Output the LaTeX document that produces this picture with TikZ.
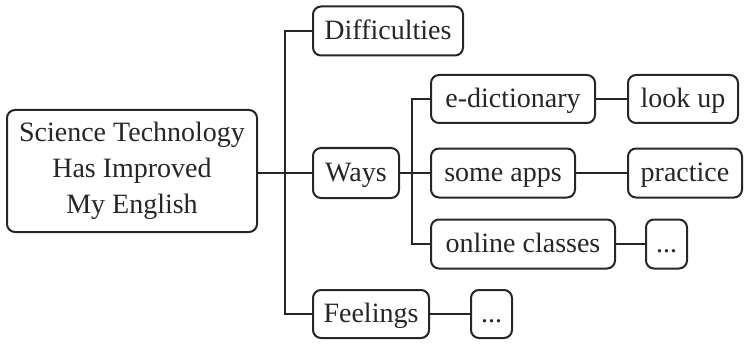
\documentclass[tikz,border=0pt]{standalone}
\usepackage{fontspec}
\setmainfont{Liberation Serif}
\begin{document}
\begin{tikzpicture}[x=1pt,y=-1pt,
  box/.style={draw=black!85,line width=2pt,rounded corners=8pt,inner sep=0pt,
    font=\fontsize{28}{36}\selectfont,text=black!85,text height=21pt,text depth=4pt,align=center},
  conn/.style={draw=black!85,line width=2pt}]
\useasboundingbox (0,0) rectangle (748,345);
\node[box,minimum width=250pt,minimum height=122pt,text height=,text depth=] (root) at (132,171) {Science Technology\\Has Improved\\My English};
\node[box,minimum width=150pt,minimum height=49pt] (diff) at (388,31) {Difficulties};
\node[box,minimum width=86pt,minimum height=50pt] (ways) at (356,173) {Ways};
\node[box,minimum width=116pt,minimum height=48pt] (feel) at (371,314) {Feelings};
\node[box,minimum width=41pt,minimum height=48pt] (fdots) at (491.5,314) {...};
\node[box,minimum width=164pt,minimum height=48pt] (edict) at (513,99) {e-dictionary};
\node[box,minimum width=110pt,minimum height=48pt] (lookup) at (683,99) {look up};
\node[box,minimum width=144pt,minimum height=49pt] (apps) at (503,173) {some apps};
\node[box,minimum width=114pt,minimum height=49pt] (practice) at (685,173) {practice};
\node[box,minimum width=184pt,minimum height=49pt] (online) at (523,244) {online classes};
\node[box,minimum width=41pt,minimum height=49pt] (odots) at (666.5,244) {...};
\coordinate (t1) at (285,0);
\coordinate (t2) at (412,0);
\draw[conn] (root.east |- ways.west) -- (ways.west);
\draw[conn] (diff.west) -| (t1 |- feel.west) -- (feel.west);
\draw[conn] (ways.east) -- (apps.west);
\draw[conn] (edict.west) -| (t2 |- online.west) -- (online.west);
\draw[conn] (edict) -- (lookup);
\draw[conn] (apps) -- (practice);
\draw[conn] (online) -- (odots);
\draw[conn] (feel) -- (fdots);
\end{tikzpicture}
\end{document}
